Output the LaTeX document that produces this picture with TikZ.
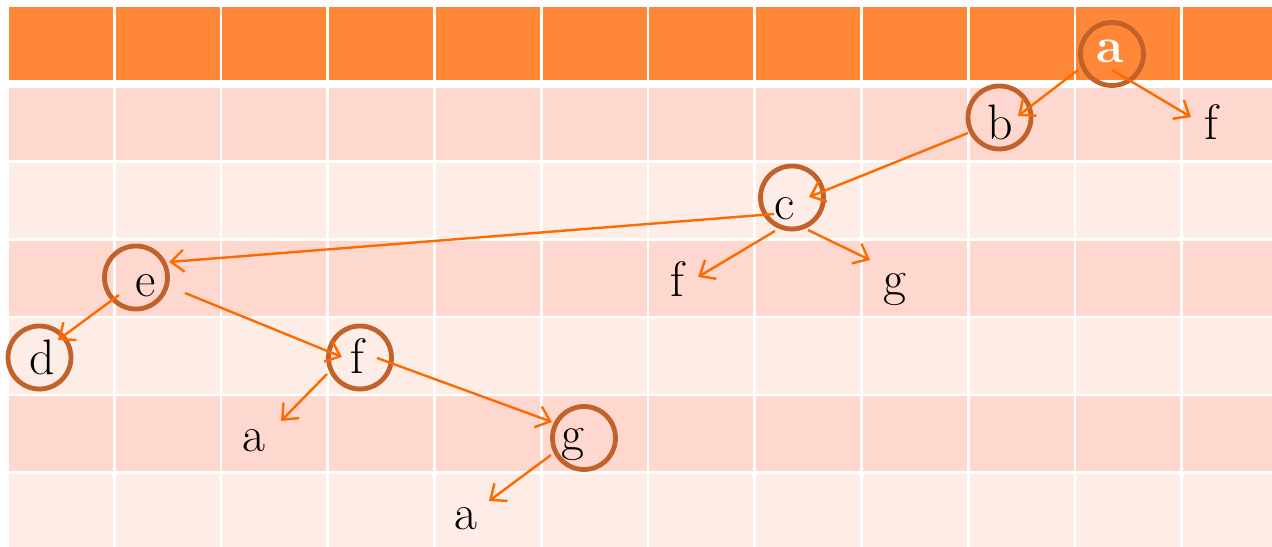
\documentclass[tikz,border=0pt]{standalone}
\usetikzlibrary{arrows.meta,calc}
\definecolor{hdr}{HTML}{FF8838}
\definecolor{rowdark}{HTML}{FED8CE}
\definecolor{rowlight}{HTML}{FEECE6}
\definecolor{ring}{HTML}{C0622A}
\definecolor{arrowc}{HTML}{FF6A00}
\tikzset{
  circ/.style={circle, draw=ring, line width=4.8bp, minimum size=63bp, inner sep=0pt},
  lbl/.style={anchor=base, inner sep=1bp, font=\fontsize{50}{60}\selectfont},
  arr/.style={draw=arrowc, line width=2.4bp, -{Straight Barb[length=13bp,width=22bp,line width=2.4bp]}},
}
\begin{document}
\begin{tikzpicture}[x=1bp,y=-1bp]
\useasboundingbox (0,0) rectangle (1272,547);
\fill[white] (0,0) rectangle (1272,547);
\begin{scope}
\clip (0,0) rectangle (1272,547);
% header row
\foreach \i in {0,...,11} {
  \fill[hdr] ({9+\i*106.73},7) rectangle ++(104,73);
}
% body rows
\foreach \t/\h/\c in {88/72/rowdark,163/75/rowlight,241/75/rowdark,318/76/rowlight,396/75/rowdark,474/80/rowlight} {
  \foreach \i in {0,...,11} {
    \fill[\c] ({9+\i*106.73},\t) rectangle ++(104,\h);
  }
}
\end{scope}

% circled nodes
\node[circ] (cA) at (1112,54) {};
\node[circ] (cB) at (999.5,117.5) {};
\node[circ] (cC) at (792,197.5) {};
\node[circ] (cE) at (136,277.5) {};
\node[circ] (cD) at (39.5,357.5) {};
\node[circ] (cF) at (360,357.5) {};
\node[circ] (cG) at (584,438) {};

% labels of circled nodes
\node[lbl, text=white] (tA) at (1110,63) {\textbf{a}};
\node[lbl] (tB) at (1000,140) {b};
\node[lbl] (tC) at (785,220) {c};
\node[lbl] (tE) at (146,297) {e};
\node[lbl] (tD) at (42,375) {d};
\node[lbl] (tF) at (357,374) {f};
\node[lbl] (tG) at (573,450) {g};

% leaf labels
\node[lbl] (lf1) at (1211,140) {f};
\node[lbl] (lf2) at (677,297) {f};
\node[lbl] (lg) at (895,296) {g};
\node[lbl] (la1) at (254,451) {a};
\node[lbl] (la2) at (466,529) {a};

% connectors
\draw[arr] ($(cA)+(-34,16)$) -- ($(cB)+(18.5,-1.5)$);
\draw[arr] ($(cA)+(0,16)$) -- ($(lf1.base)+(-20,-23)$);
\draw[arr] ($(cB)+(-31.5,15.5)$) -- ($(cC)+(17,-0.5)$);
\draw[arr] ($(cC)+(-18,16.5)$) -- ($(cE)+(33,-15.5)$);
\draw[arr] ($(cC)+(-17,33.5)$) -- ($(lf2.base)+(21,-20)$);
\draw[arr] ($(cC)+(16,32.5)$) -- ($(lg.base)+(-25,-36)$);
\draw[arr] ($(cE)+(-17,17.5)$) -- ($(cD)+(18.5,-17.5)$);
\draw[arr] ($(cE)+(49,15.5)$) -- ($(cF)+(-18,-0.5)$);
\draw[arr] ($(cF)+(-33,16.5)$) -- ($(la1.base)+(27,-30)$);
\draw[arr] ($(cF)+(17,0.5)$) -- ($(cG)+(-32,-16)$);
\draw[arr] ($(cG)+(-33,17)$) -- ($(la2.base)+(23,-28)$);
\end{tikzpicture}
\end{document}
